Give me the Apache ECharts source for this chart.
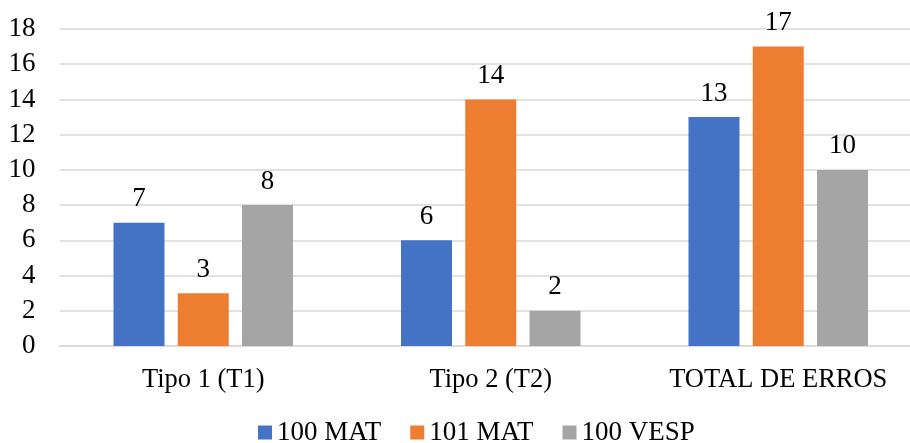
<!DOCTYPE html>
<html><head><meta charset="utf-8">
<script src="https://cdn.jsdelivr.net/npm/echarts@6/dist/echarts.min.js"></script>
<style>html,body{margin:0;padding:0;background:#fff;overflow:hidden}#c{width:922px;height:443px}</style>
</head><body><div id="c"></div>
<script>
const categories = ['Tipo 1 (T1)', 'Tipo 2 (T2)', 'TOTAL DE ERROS'];
const seriesNames = ['100 MAT', '101 MAT', '100 VESP'];
const mat100 = [7, 6, 13];
const mat101 = [3, 14, 17];
const vesp100 = [8, 2, 10];
const colors = ['#4472C4', '#ED7D31', '#A5A5A5'];
const font = 'Liberation Serif';
const data = [mat100, mat101, vesp100];
const chart = echarts.init(document.getElementById('c'));
chart.setOption({
  animation: false,
  textStyle: { fontFamily: font },
  grid: { left: 59.5, right: 0, top: 29, bottom: 97, containLabel: false },
  legend: {
    top: 414, left: 253, itemWidth: 14, itemHeight: 14, itemGap: 29,
    icon: 'rect',
    textStyle: { fontFamily: font, fontSize: 27, color: '#000' },
    data: seriesNames
  },
  xAxis: {
    type: 'category', data: categories,
    axisLine: { lineStyle: { color: '#D9D9D9', width: 1.5 } },
    axisTick: { show: false },
    axisLabel: { interval: 0, fontFamily: font, fontSize: 26.5, color: '#000', margin: 21 }
  },
  yAxis: {
    type: 'value', min: 0, max: 18, interval: 2,
    axisLine: { show: false }, axisTick: { show: false },
    splitLine: { lineStyle: { color: '#D9D9D9', width: 1.5 } },
    axisLabel: { fontFamily: font, fontSize: 27, color: '#000', margin: 24 }
  },
  series: seriesNames.map((n, i) => ({
    name: n, type: 'bar', data: data[i], barWidth: 51, barGap: '26%',
    itemStyle: { color: colors[i] },
    label: { show: true, position: 'top', distance: 10, fontFamily: font, fontSize: 27, color: '#000' }
  }))
});
</script></body></html>
